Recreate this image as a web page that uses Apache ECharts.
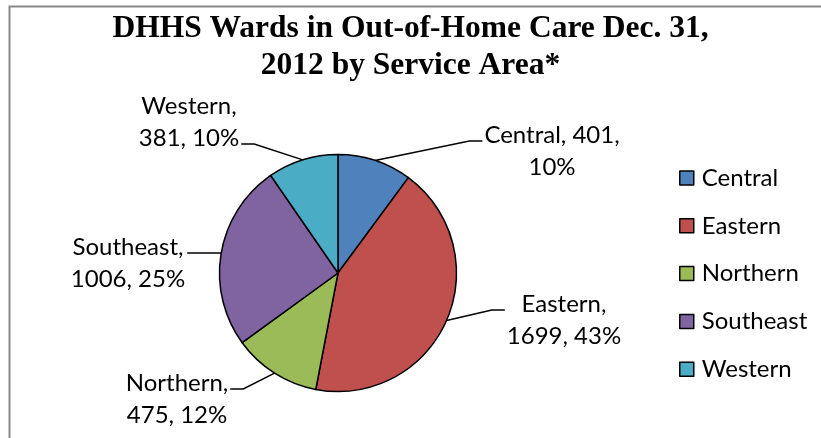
<!DOCTYPE html>
<html>
<head>
<meta charset="utf-8">
<script src="https://cdn.jsdelivr.net/npm/echarts@6.0.0/dist/echarts.min.js"></script>
<style>
  html, body { margin: 0; padding: 0; background: #ffffff; }
  #chart { width: 821px; height: 438px; }
</style>
</head>
<body>
<div id="chart"></div>
<script>
// ---- data ----
const titleText = 'DHHS Wards in Out-of-Home Care Dec. 31,\n2012 by Service Area*';
const categories = ['Central', 'Eastern', 'Northern', 'Southeast', 'Western'];
const values = [401, 1699, 475, 1006, 381];

// ---- styles / layout ----
const colors = ['#4F81BD', '#C0504D', '#9BBB59', '#8064A2', '#4BACC6'];
const LABEL_FONT = 'Lato';
const LABEL_SIZE = 24;
const LINE_H = 32;
// label block centres, which comma the text wraps after, which line the leader attaches to
const LABEL_LAYOUT = {
  Central:   { x: 552, y: 151, breakAfter: 2, attach: 0 },
  Eastern:   { x: 564, y: 320, breakAfter: 1, attach: 0 },
  Northern:  { x: 177, y: 399, breakAfter: 1, attach: 0 },
  Southeast: { x: 128, y: 263, breakAfter: 1, attach: 0 },
  Western:   { x: 189, y: 122, breakAfter: 1, attach: 1 }
};

const chart = echarts.init(document.getElementById('chart'));

chart.setOption({
  animation: false,
  color: colors,
  title: {
    text: titleText,
    left: 'center',
    top: 10,
    padding: 0,
    textStyle: {
      fontFamily: 'Liberation Serif',
      fontWeight: 'bold',
      fontSize: 31.5,
      lineHeight: 37,
      color: '#000000'
    }
  },
  graphic: [{
    type: 'rect',
    silent: true,
    z: -10,
    shape: { x: 9.5, y: 6.5, width: 1000, height: 1000 },
    style: { fill: 'none', stroke: '#8a8a8a', lineWidth: 2 }
  }],
  legend: {
    orient: 'vertical',
    left: 679,
    top: 166,
    padding: 0,
    itemWidth: 14,
    itemHeight: 14,
    itemGap: 23.8,
    icon: 'rect',
    itemStyle: { borderColor: '#000000', borderWidth: 1.5 },
    textStyle: {
      fontFamily: LABEL_FONT,
      fontSize: LABEL_SIZE,
      lineHeight: 24,
      color: '#000000',
      padding: [0, 0, 0, 3]
    },
    data: categories
  },
  series: [{
    type: 'pie',
    center: [338, 273],
    radius: 118.5,
    startAngle: 90,
    clockwise: true,
    avoidLabelOverlap: false,
    percentPrecision: 0,
    itemStyle: { borderColor: '#000000', borderWidth: 1.5 },
    emphasis: { disabled: true },
    label: {
      show: true,
      position: 'outside',
      color: '#000000',
      fontFamily: LABEL_FONT,
      fontSize: LABEL_SIZE,
      lineHeight: LINE_H,
      formatter: function (p) {
        const k = LABEL_LAYOUT[p.name].breakAfter;
        const parts = [p.name, String(p.value), p.percent + '%'];
        return parts.slice(0, k).join(', ') + ',\n' + parts.slice(k).join(', ');
      }
    },
    labelLine: {
      show: true,
      length: 10,
      length2: 13,
      lineStyle: { color: '#000000', width: 1.5 }
    },
    labelLayout: function (p) {
      const L = LABEL_LAYOUT[categories[p.dataIndex]];
      const res = { x: L.x, y: L.y, align: 'center', verticalAlign: 'middle' };
      const pts = p.labelLinePoints;
      if (pts && pts.length) {
        const a = pts[0];
        const w = p.labelRect.width;
        const leftSide = L.x > a[0];
        const ex = leftSide ? L.x - w / 2 - 2 : L.x + w / 2 + 2;
        const ey = L.y + (L.attach === 0 ? -LINE_H / 2 : LINE_H / 2) + 6;
        const mx = leftSide ? ex - 13 : ex + 13;
        res.labelLinePoints = [[a[0], a[1]], [mx, ey], [ex, ey]];
      }
      return res;
    },
    data: categories.map(function (n, i) { return { name: n, value: values[i] }; })
  }]
});
</script>
</body>
</html>
